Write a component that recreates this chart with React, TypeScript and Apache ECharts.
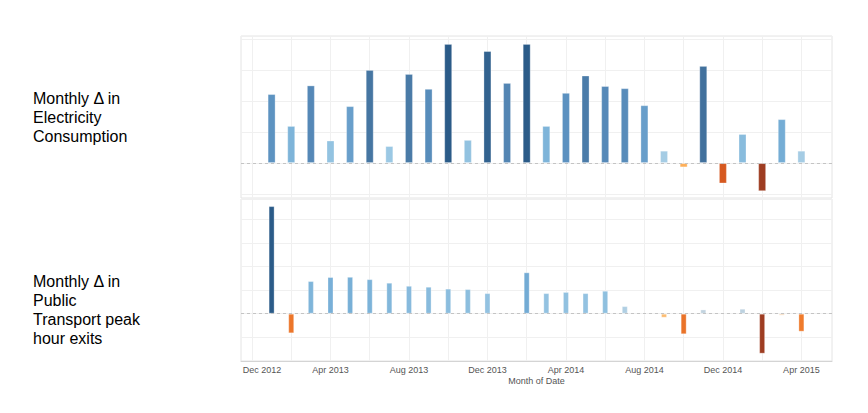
import React, { useEffect, useRef } from "react";
import * as echarts from "echarts";

// Months (Jan 2013 .. Apr 2015)
const MONTHS = [
  "2013-01", "2013-02", "2013-03", "2013-04", "2013-05", "2013-06",
  "2013-07", "2013-08", "2013-09", "2013-10", "2013-11", "2013-12",
  "2014-01", "2014-02", "2014-03", "2014-04", "2014-05", "2014-06",
  "2014-07", "2014-08", "2014-09", "2014-10", "2014-11", "2014-12",
  "2015-01", "2015-02", "2015-03", "2015-04",
];

// Monthly change in electricity consumption (relative units)
const ELECTRICITY = [
  2.23, 1.2, 2.51, 0.73, 1.84, 3.01, 0.55, 2.88, 2.4, 3.85, 0.75, 3.62,
  2.59, 3.85, 1.2, 2.27, 2.83, 2.49, 2.42, 1.87, 0.4, -0.14, 3.14, -0.66,
  0.94, -0.91, 1.42, 0.4,
];

// Monthly change in public transport peak hour exits (relative units)
const TRANSPORT = [
  4.55, -0.83, 1.38, 1.55, 1.56, 1.46, 1.31, 1.18, 1.14, 1.06, 1.04, 0.87,
  -0.03, 1.75, 0.87, 0.92, 0.87, 0.97, 0.32, -0.03, -0.17, -0.87, 0.18, 0.04,
  0.21, -1.69, -0.08, -0.76,
];

const TICK_LABELS = [
  "Dec 2012", "Apr 2013", "Aug 2013", "Dec 2013",
  "Apr 2014", "Aug 2014", "Dec 2014", "Apr 2015",
];

const ROW_LABELS = [
  "Monthly Δ in\nElectricity\nConsumption",
  "Monthly Δ in\nPublic\nTransport peak\nhour exits",
];

// month index relative to Dec 2012
const monthIndex = (m: string) => {
  const [y, mo] = m.split("-").map(Number);
  return (y - 2012) * 12 + mo - 12;
};

const POS_RAMP: [number, string][] = [
  [0, "#d9d9d9"], [0.06, "#b4d0e2"], [0.12, "#9fcbe5"], [0.35, "#77afd7"],
  [0.6, "#5b90bf"], [0.8, "#44739f"], [1, "#2b5b88"],
];
const NEG_RAMP: [number, string][] = [
  [0, "#dcdcdc"], [0.05, "#f5cfa4"], [0.12, "#ffb55e"], [0.45, "#ef7b2c"],
  [0.55, "#e86e27"], [0.75, "#d4561f"], [1, "#9e3d22"],
];

const hex = (c: string) => [1, 3, 5].map((i) => parseInt(c.slice(i, i + 2), 16));
const lerpRamp = (ramp: [number, string][], t: number) => {
  t = Math.max(0, Math.min(1, t));
  for (let i = 1; i < ramp.length; i++) {
    if (t <= ramp[i][0]) {
      const [t0, c0] = ramp[i - 1];
      const [t1, c1] = ramp[i];
      const f = (t - t0) / (t1 - t0 || 1);
      const a = hex(c0), b = hex(c1);
      const r = a.map((v, k) => Math.round(v + (b[k] - v) * f));
      return `rgb(${r[0]},${r[1]},${r[2]})`;
    }
  }
  return ramp[ramp.length - 1][1];
};

const colorFor = (v: number, max: number, min: number) =>
  v >= 0 ? lerpRamp(POS_RAMP, v / max) : lerpRamp(NEG_RAMP, v / min);

const X_MIN = -0.56;
const X_MAX = 29.56;
const GRID_TICKS = Array.from({ length: 15 }, (_, i) => i * 2);
const LABEL_TICKS = TICK_LABELS.map((_, i) => i * 4);

export default function App() {
  const ref = useRef<HTMLDivElement>(null);
  useEffect(() => {
    if (!ref.current) return;
    const chart = echarts.init(ref.current, null, { renderer: "svg" });
    const font = '"Liberation Sans", Arial, sans-serif';

    const makeSeries = (vals: number[], idx: number, width: number) => {
      const max = Math.max(...vals);
      const min = Math.min(...vals);
      return {
        type: "bar",
        xAxisIndex: idx,
        yAxisIndex: idx,
        barWidth: width,
        z: 3,
        data: vals.map((v, i) => [monthIndex(MONTHS[i]), v]),
        itemStyle: {
          color: (p: any) => colorFor(p.value[1], max, min),
          borderColor: "rgba(255,255,255,0.3)",
          borderWidth: 1,
        },
        markLine: {
          silent: true,
          symbol: "none",
          label: { show: false },
          lineStyle: { color: "#c4c4c4", type: [3, 3], width: 1 },
          data: [{ yAxis: 0 }],
        },
      };
    };

    const xBase = (idx: number) => ({
      type: "value",
      gridIndex: idx,
      min: X_MIN,
      max: X_MAX,
      splitNumber: 15,
      axisTick: { show: false, customValues: GRID_TICKS },
      splitLine: { show: true, lineStyle: { color: "#f0f0f0", width: 1 } },
    });

    const yBase = (idx: number, min: number, max: number) => ({
      type: "value",
      gridIndex: idx,
      min,
      max,
      splitNumber: 5,
      axisLabel: { show: false },
      axisLine: { show: false },
      axisTick: { show: false },
      splitLine: { show: true, lineStyle: { color: "#f0f0f0", width: 1 } },
    });

    const labelStyle = { fontSize: 9, color: "#555", fontFamily: font };

    chart.setOption({
      animation: false,
      grid: [
        { left: 241, top: 36, width: 591, height: 162, show: true, borderColor: "#e4e4e4", borderWidth: 1, backgroundColor: "transparent" },
        { left: 241, top: 199, width: 591, height: 162, show: true, borderColor: "#e4e4e4", borderWidth: 1, backgroundColor: "transparent" },
      ],
      xAxis: [
        {
          ...xBase(0),
          axisLine: { show: false, onZero: false },
          axisLabel: { show: false },
        },
        {
          ...xBase(1),
          axisLine: { show: true, onZero: false, lineStyle: { color: "#d4d4d4" } },
          axisLabel: {
            show: true,
            customValues: LABEL_TICKS,
            formatter: (v: number) => {
              const i = Math.round(v / 4);
              const t = TICK_LABELS[i] ?? "";
              return i === 0 ? `{first|${t}}` : t;
            },
            ...labelStyle,
            rich: { first: { ...labelStyle, padding: [0, 0, 0, 20] } },
            margin: 4,
          },
          name: "Month of Date",
          nameLocation: "middle",
          nameGap: 15,
          nameTextStyle: labelStyle,
        },
      ],
      yAxis: [yBase(0, -1.129, 4.106), yBase(1, -2, 4.85)],
      series: [makeSeries(ELECTRICITY, 0, 8), makeSeries(TRANSPORT, 1, 6)],
      graphic: [
        {
          type: "text",
          left: 33,
          top: 89,
          style: { text: ROW_LABELS[0], fontSize: 16, fontFamily: font, fill: "#000", lineHeight: 19 },
        },
        {
          type: "text",
          left: 33,
          top: 271.5,
          style: { text: ROW_LABELS[1], fontSize: 16, fontFamily: font, fill: "#000", lineHeight: 19 },
        },
      ],
    });
    return () => chart.dispose();
  }, []);

  return (
    <div
      ref={ref}
      style={{ position: "fixed", left: 0, top: 0, width: 868, height: 413, background: "#fff" }}
    />
  );
}
